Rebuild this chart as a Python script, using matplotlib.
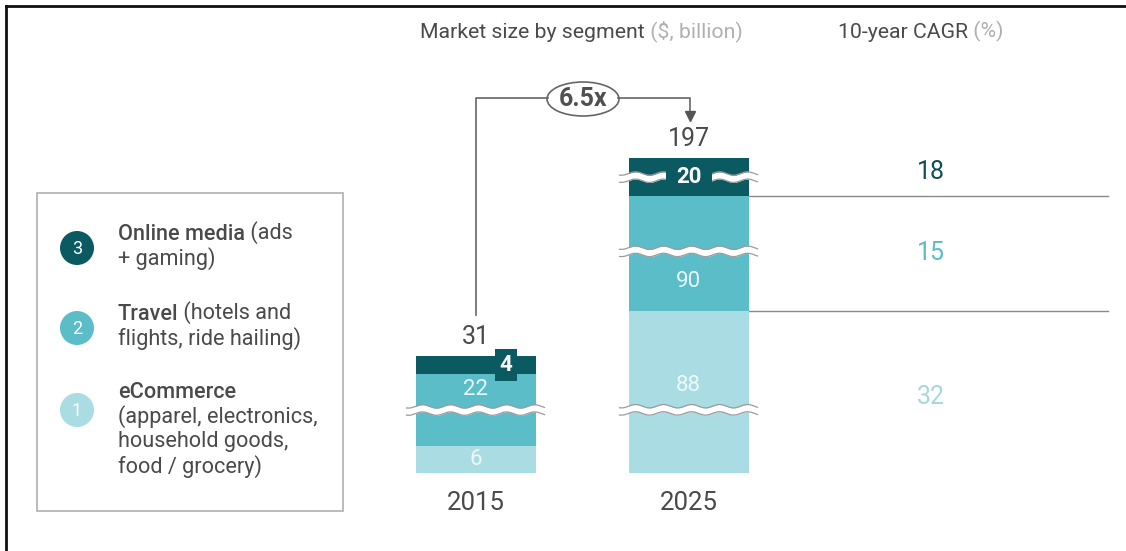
import numpy as np
import matplotlib
matplotlib.use("Agg")
import matplotlib.pyplot as plt
from matplotlib.patches import Rectangle, Circle, Ellipse

plt.rcParams['font.family'] = ['Roboto', 'DejaVu Sans']

# data
years = ['2015', '2025']
segments = ['eCommerce', 'Travel', 'Online media']
ecommerce = [6, 88]
travel = [22, 90]
media = [4, 20]
totals = [31, 197]
multiple = '6.5x'
cagr = [32, 15, 18]          # eCommerce, Travel, Online media
# amount hidden by the axis breaks (per segment, per year)
hidden = {'eCommerce': [0, 52], 'Travel': [6, 64.5], 'Online media': [0, 11.5]}

dark, mid, light = '#0c5a61', '#5bbdc8', '#a9dce3'
seg_colors = [light, mid, dark]
grey_txt = '#4a4a4a'

W, H = 1126, 551
K = 4.5          # pixels per unit
BASE = 473       # pixel row of the bar baseline

fig = plt.figure(figsize=(W / 100, H / 100), dpi=100)
ax = fig.add_axes([0, 0, 1, 1])
ax.set_xlim(0, W)
ax.set_ylim(H, 0)
ax.axis('off')

bx = fig.add_axes([0, 0, 1, 1], zorder=2)
bx.patch.set_alpha(0)
bx.set_xlim(0, W)
bx.set_ylim(-(H - BASE) / K, BASE / K)
bx.axis('off')


def py(v):
    # value units -> pixel row
    return BASE - v * K


# page frame (top and left rules)
ax.plot([6, W], [6, 6], color='#111111', lw=2)
ax.plot([6, 6], [6, H], color='#111111', lw=2)

# headers
t1 = ax.text(420, 33, 'Market size by segment', fontsize=15.3, color=grey_txt, va='center', ha='left')
ax.annotate(' ($, billion)', xy=(1, 0), xycoords=t1, va='bottom', ha='left', fontsize=15.3, color='#b0b0b0')
t2 = ax.text(838, 33, '10-year CAGR', fontsize=15.3, color=grey_txt, va='center', ha='left')
ax.annotate(' (%)', xy=(1, 0), xycoords=t2, va='bottom', ha='left', fontsize=15.3, color='#b0b0b0')

# legend box
ax.add_patch(Rectangle((37, 193), 306, 318, fill=False, ec='#b5b5b5', lw=1.3))
leg = [
    (248, dark, '3', 'Online media', ' (ads', ['+ gaming)']),
    (328, mid, '2', 'Travel', ' (hotels and', ['flights, ride hailing)']),
    (410, light, '1', 'eCommerce', '', ['(apparel, electronics,', 'household goods,', 'food / grocery)']),
]
for cy, col, num, head, rest, more in leg:
    ax.add_patch(Circle((77, cy), 17, color=col, lw=0))
    ax.text(77, cy + 1, num, color='white', fontsize=13, ha='center', va='center')
    top = cy - 14 if len(more) == 1 else cy - 18
    th = ax.text(118, top, head, fontsize=15.6, color=grey_txt, fontweight='medium', va='center')
    if rest:
        ax.annotate(rest, xy=(1, 0), xycoords=th, va='bottom', ha='left', fontsize=15.6, color=grey_txt)
    for i, line in enumerate(more):
        ax.text(118, top + 25 * (i + 1), line, fontsize=15.6, color=grey_txt, va='center')

# stacked bars with axis breaks
xc = [475.5, 688.5]
bw = 120
series = [ecommerce, travel, media]
brk_frac = {('Travel', 0): 0.5, ('eCommerce', 1): 0.39, ('Travel', 1): 0.52, ('Online media', 1): 0.5}
lab_frac = {('eCommerce', 0): 0.5, ('Travel', 0): 0.79, ('eCommerce', 1): 0.54,
            ('Travel', 1): 0.26, ('Online media', 1): 0.5}
lab_col = {'eCommerce': '#eef8f9', 'Travel': '#eaf7f8', 'Online media': 'white'}


def wave_break(x0, x1, yc):
    xs = np.linspace(x0 - 9, x1 + 9, 300)
    w = (1.7 / K) * np.sin(2 * np.pi * (xs - x0) / 28)
    hh = 3.6 / K
    bx.fill_between(xs, yc - hh + w, yc + hh + w, color='white', lw=0, zorder=5)
    bx.plot(xs, yc + hh + w, color='#9c9c9c', lw=0.9, zorder=6)
    bx.plot(xs, yc - hh + w, color='#9c9c9c', lw=0.9, zorder=6)


tops = []
for j in range(len(years)):
    bottom = 0
    for name, vals, col in zip(segments, series, seg_colors):
        shown = vals[j] - hidden[name][j]
        bx.bar(xc[j], shown, bw, bottom=bottom, color=col, lw=0, zorder=3)
        if (name, j) in brk_frac:
            wave_break(xc[j] - bw / 2, xc[j] + bw / 2, bottom + shown * brk_frac[(name, j)])
        if (name, j) in lab_frac:
            yl = bottom + shown * lab_frac[(name, j)]
            wt = 'bold' if name == 'Online media' else 'normal'
            if name == 'Online media':
                bx.add_patch(Rectangle((xc[j] - 23, yl - 2.2), 46, 4.4, color=dark, lw=0, zorder=7))
            bx.text(xc[j], yl, str(vals[j]), color=lab_col[name], fontsize=16, fontweight=wt,
                    ha='center', va='center', zorder=8)
        bottom += shown
    tops.append(bottom)

# small value box for 2015 online media
m0 = ecommerce[0] - hidden['eCommerce'][0] + travel[0] - hidden['Travel'][0]
mc = m0 + (media[0] - hidden['Online media'][0]) / 2
bx.add_patch(Rectangle((xc[0] + 19, mc - 16 / K), 22, 32 / K, color=dark, lw=0, zorder=7))
bx.text(xc[0] + 30, mc, str(media[0]), color='white', fontsize=16, fontweight='bold',
        ha='center', va='center', zorder=8)

# totals and year labels
for j in range(len(years)):
    bx.text(xc[j], tops[j] + 19 / K, str(totals[j]), color=grey_txt, fontsize=18,
            ha='center', va='center')
    ax.text(xc[j], 503, years[j], color=grey_txt, fontsize=18.5, ha='center', va='center')

# growth connector
ax.plot([476, 476, 548], [315, 98, 98], color='#666666', lw=1.2)
ax.plot([618, 690, 690], [98, 98, 112], color='#666666', lw=1.2)
ax.plot([690], [116], marker='v', markersize=7, color='#555555', lw=0)
ax.add_patch(Ellipse((583, 99), 72, 34, fill=False, ec='#666666', lw=1.2))
ax.text(583, 99, multiple, color='#505050', fontsize=18, fontweight='bold', ha='center', va='center')

# CAGR column, with rules at the 2025 segment boundaries
b_ecom = py(ecommerce[1] - hidden['eCommerce'][1])
b_trav = py(ecommerce[1] - hidden['eCommerce'][1] + travel[1] - hidden['Travel'][1])
ax.plot([xc[1] + bw / 2, 1108], [b_trav, b_trav], color='#8a8a8a', lw=1)
ax.plot([xc[1] + bw / 2, 1108], [b_ecom, b_ecom], color='#8a8a8a', lw=1)
cagr_y = [397, 253, 172]
cagr_col = ['#a8d6dd', '#5bbdc8', '#0d4f55']
for v, yy, c in zip(cagr, cagr_y, cagr_col):
    ax.text(931, yy, str(v), color=c, fontsize=18, ha='center', va='center')

fig.savefig('out.png', dpi=100)
